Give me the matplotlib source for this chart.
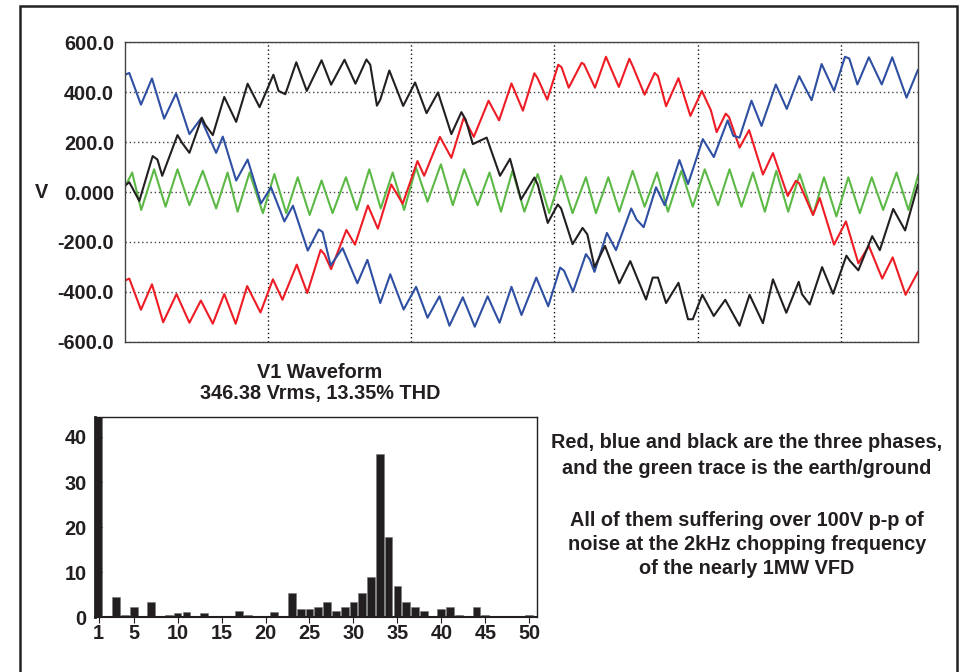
import matplotlib.pyplot as plt
from matplotlib.patches import Rectangle

# time in ms, voltage in V (one 60 Hz cycle)
red_t = [0.0, 0.09, 0.335, 0.565, 0.80, 1.08, 1.35, 1.59, 1.84, 2.08, 2.32, 2.56, 2.84, 3.10, 3.30,
         3.60, 3.82, 4.10, 4.18, 4.32, 4.64, 4.82, 5.09, 5.30, 5.58, 5.82, 6.13, 6.27, 6.60, 6.84,
         7.10, 7.31, 7.62, 7.84, 8.10, 8.34, 8.58, 8.65, 8.85, 9.08, 9.15, 9.30, 9.57, 9.62, 9.85,
         10.08, 10.35, 10.57, 10.64, 10.89, 11.10, 11.17, 11.34, 11.60, 11.85, 12.09, 12.28, 12.40,
         12.59, 12.66, 12.88, 13.08, 13.37, 13.58, 13.89, 14.06, 14.13, 14.42, 14.56, 14.86, 15.11,
         15.37, 15.59, 15.87, 16.09, 16.36, 16.62]
red_v = [-355, -347, -472, -370, -522, -409, -524, -435, -528, -409, -528, -377, -483, -350, -432,
         -291, -405, -232, -250, -309, -152, -211, -54, -147, 30, -47, 124, 65, 221, 137,
         298, 221, 366, 287, 435, 326, 476, 455, 370, 510, 500, 418, 518, 512, 418,
         542, 421, 534, 505, 390, 477, 465, 344, 456, 305, 405, 327, 240,
         314, 300, 178, 248, 70, 156, -16, 45, 35, -92, -24, -211, -118,
         -286, -216, -347, -262, -412, -320]

blue_t = [0.0, 0.09, 0.335, 0.565, 0.82, 1.07, 1.35, 1.59, 1.91, 2.05, 2.33, 2.57, 2.85, 3.06, 3.34,
          3.52, 3.83, 4.06, 4.14, 4.31, 4.56, 4.87, 5.08, 5.35, 5.56, 5.84, 6.10, 6.34, 6.59, 6.80,
          7.08, 7.33, 7.60, 7.85, 8.10, 8.31, 8.62, 8.87, 9.12, 9.20, 9.39, 9.66, 9.74, 9.84, 10.10,
          10.29, 10.61, 10.72, 10.87, 11.13, 11.31, 11.62, 11.80, 12.11, 12.34, 12.63, 12.75, 12.88,
          13.13, 13.34, 13.64, 13.87, 14.13, 14.39, 14.60, 14.86, 15.09, 15.18, 15.35, 15.59, 15.86,
          16.08, 16.38, 16.62]
blue_v = [470, 477, 350, 455, 294, 395, 232, 294, 157, 222, 46, 130, -46, 19, -118,
          -55, -235, -150, -160, -294, -225, -366, -272, -445, -330, -471, -380, -504, -418, -536,
          -422, -540, -418, -524, -380, -493, -343, -458, -303, -315, -400, -249, -270, -320, -164,
          -233, -66, -110, -141, 19, -53, 128, 32, 212, 140, 287, 225, 218,
          366, 265, 431, 333, 464, 368, 513, 405, 542, 535, 431, 540, 431,
          540, 378, 490]

black_t = [0.0, 0.09, 0.30, 0.58, 0.68, 0.78, 1.10, 1.20, 1.35, 1.61, 1.68, 1.84, 2.08, 2.33, 2.57,
           2.82, 3.11, 3.22, 3.36, 3.59, 3.81, 4.12, 4.32, 4.60, 4.83, 5.06, 5.14, 5.28, 5.35, 5.54,
           5.83, 6.08, 6.32, 6.56, 6.84, 7.05, 7.14, 7.29, 7.58, 7.86, 8.07, 8.30, 8.58, 8.65, 8.86,
           9.07, 9.14, 9.38, 9.59, 9.69, 9.84, 10.06, 10.36, 10.59, 10.92, 11.06, 11.17, 11.34, 11.60,
           11.80, 11.90, 12.10, 12.34, 12.58, 12.88, 13.09, 13.37, 13.58, 13.86, 14.12, 14.19, 14.35,
           14.61, 14.84, 15.12, 15.19, 15.37, 15.66, 15.82, 16.10, 16.35, 16.62]
black_v = [26, 39, -36, 144, 130, 65, 228, 196, 157, 298, 270, 228, 381, 281, 434,
           340, 470, 405, 392, 520, 405, 528, 430, 530, 434, 531, 510, 346, 370, 487,
           345, 439, 316, 399, 232, 320, 290, 192, 218, 65, 133, -30, 58, 30, -124,
           -50, -66, -209, -144, -170, -301, -216, -366, -277, -431, -343, -343, -445, -364,
           -510, -510, -412, -497, -432, -536, -412, -526, -350, -484, -360, -410, -451,
           -301, -408, -255, -275, -314, -177, -233, -68, -154, 30]

green_t = [0.0, 0.15, 0.34, 0.61, 0.85, 1.10, 1.35, 1.63, 1.91, 2.15, 2.36, 2.61, 2.89, 3.13, 3.38,
           3.62, 3.87, 4.12, 4.35, 4.63, 4.86, 5.12, 5.36, 5.61, 5.85, 6.10, 6.34, 6.62, 6.87, 7.11,
           7.39, 7.64, 7.88, 8.12, 8.37, 8.65, 8.89, 9.14, 9.38, 9.66, 9.87, 10.13, 10.36, 10.64,
           10.89, 11.15, 11.38, 11.66, 11.90, 12.15, 12.43, 12.67, 12.92, 13.16, 13.41, 13.65, 13.90,
           14.14, 14.42, 14.65, 14.91, 15.16, 15.40, 15.65, 15.89, 16.17, 16.42, 16.63]
green_v = [20, 78, -72, 91, -59, 91, -53, 85, -66, 78, -79, 78, -85, 72, -85,
           59, -92, 46, -85, 59, -72, 91, -66, 78, -72, 98, -39, 111, -53, 91,
           -53, 78, -79, 85, -79, 72, -85, 65, -85, 59, -85, 59, -79, 85,
           -59, 78, -79, 85, -59, 91, -53, 91, -59, 78, -79, 85, -79,
           72, -92, 59, -98, 59, -85, 59, -72, 78, -72, 72]

# harmonic spectrum
harmonics = list(range(1, 51))
magnitude = [44.5, 0.3, 4.6, 0.5, 2.2, 0.15, 3.4, 0.1, 0.6, 1.0,
             1.1, 0.15, 1.0, 0.1, 0.3, 0.3, 1.5, 0.4, 0.15, 0.3,
             1.1, 0.3, 5.3, 1.8, 1.8, 2.2, 3.5, 1.5, 2.2, 3.5,
             5.3, 9.0, 36.3, 17.9, 6.9, 3.5, 2.2, 1.5, 0.3, 1.8,
             2.2, 0.5, 0.15, 2.2, 0.5, 0.3, 0.3, 0.15, 0.3, 0.5]

volt_ticks = [-600, -400, -200, 0, 200, 400, 600]
volt_labels = ['-600.0', '-400.0', '-200.0', '0.000', '200.0', '400.0', '600.0']
time_grid = [3, 6, 9, 12, 15]
harm_ticks = [1, 5, 10, 15, 20, 25, 30, 35, 40, 45, 50]
spec_ticks = [0, 10, 20, 30, 40]

INK = '#231f20'
FS = 14.3
W, H = 968, 672


def fx(px):
    return px / W


def fy(py):
    return 1 - py / H


def draw_waveform(fig):
    ax = fig.add_axes([fx(125), fy(341.7), fx(918) - fx(125), fy(42.3) - fy(341.7)])
    kw = dict(lw=1.5, solid_joinstyle='round', solid_capstyle='round')
    ax.plot(green_t, green_v, color='#5cb946', **kw)
    ax.plot(red_t, red_v, color='#ee1c25', **kw)
    ax.plot(blue_t, blue_v, color='#2e4fa2', **kw)
    ax.plot(black_t, black_v, color=INK, **kw)

    ax.set_xlim(0, 16.62)
    ax.set_ylim(-600, 600)
    ax.set_xticks(time_grid)
    ax.set_xticklabels([])
    ax.set_yticks(volt_ticks)
    ax.set_yticklabels(volt_labels, fontsize=FS, fontweight='bold', color=INK)
    ax.tick_params(length=0, pad=8)
    ax.grid(axis='y', color='#444444', ls=(0, (1, 2)), lw=1.0)
    ax.grid(axis='x', color='#111111', ls=(0, (1, 2)), lw=1.0)
    ax.set_axisbelow(True)
    for s in ax.spines.values():
        s.set_color('#444444')
        s.set_linewidth(1.0)
    fig.text(fx(41), fy(192), 'V', fontsize=FS, fontweight='bold', color=INK,
             ha='center', va='center')


def draw_spectrum(fig):
    ax = fig.add_axes([fx(95), fy(617.3), fx(536.7) - fx(95), fy(416.7) - fy(617.3)])
    ax.bar(harmonics, magnitude, width=0.88, color=INK, edgecolor='#777777', linewidth=0.4)
    ax.set_xlim(0.6, 50.85)
    ax.set_ylim(0, 44.5)
    ax.set_xticks(harm_ticks)
    ax.set_yticks(spec_ticks)
    for lab in ax.get_xticklabels() + ax.get_yticklabels():
        lab.set_fontsize(FS)
        lab.set_fontweight('bold')
        lab.set_color(INK)
    ax.tick_params(axis='y', direction='in', length=5, pad=6, color=INK)
    ax.tick_params(axis='x', direction='out', length=4, pad=1, color=INK)
    for s in ax.spines.values():
        s.set_color(INK)
        s.set_linewidth(1.0)
    ax.spines['left'].set_linewidth(2.0)
    ax.spines['bottom'].set_linewidth(1.5)

    fig.text(fx(320), fy(372), 'V1 Waveform', fontsize=FS, fontweight='bold', color=INK,
             ha='center', va='center')
    fig.text(fx(320), fy(394), '346.38 Vrms, 13.35% THD', fontsize=FS, fontweight='bold',
             color=INK, ha='center', va='center')


def draw_notes(fig):
    lines = [
        (443, 'Red, blue and black are the three phases,'),
        (469, 'and the green trace is the earth/ground'),
        (520, 'All of them suffering over 100V p-p of'),
        (544, 'noise at the 2kHz chopping frequency'),
        (568, 'of the nearly 1MW VFD'),
    ]
    for py, txt in lines:
        fig.text(fx(747), fy(py), txt, fontsize=FS, fontweight='bold', color=INK,
                 ha='center', va='center')


def main():
    plt.rcParams['font.family'] = ['Liberation Sans', 'DejaVu Sans']
    fig = plt.figure(figsize=(W / 100, H / 100), dpi=100)
    fig.patch.set_facecolor('white')

    frame = Rectangle((fx(19.5), -0.05), fx(956.5) - fx(19.5), fy(6) + 0.05,
                      transform=fig.transFigure, fill=False, edgecolor='#222222',
                      linewidth=1.8, clip_on=False)
    fig.patches.append(frame)

    draw_waveform(fig)
    draw_spectrum(fig)
    draw_notes(fig)

    fig.savefig('out.png', dpi=100)


if __name__ == "__main__":
    main()
